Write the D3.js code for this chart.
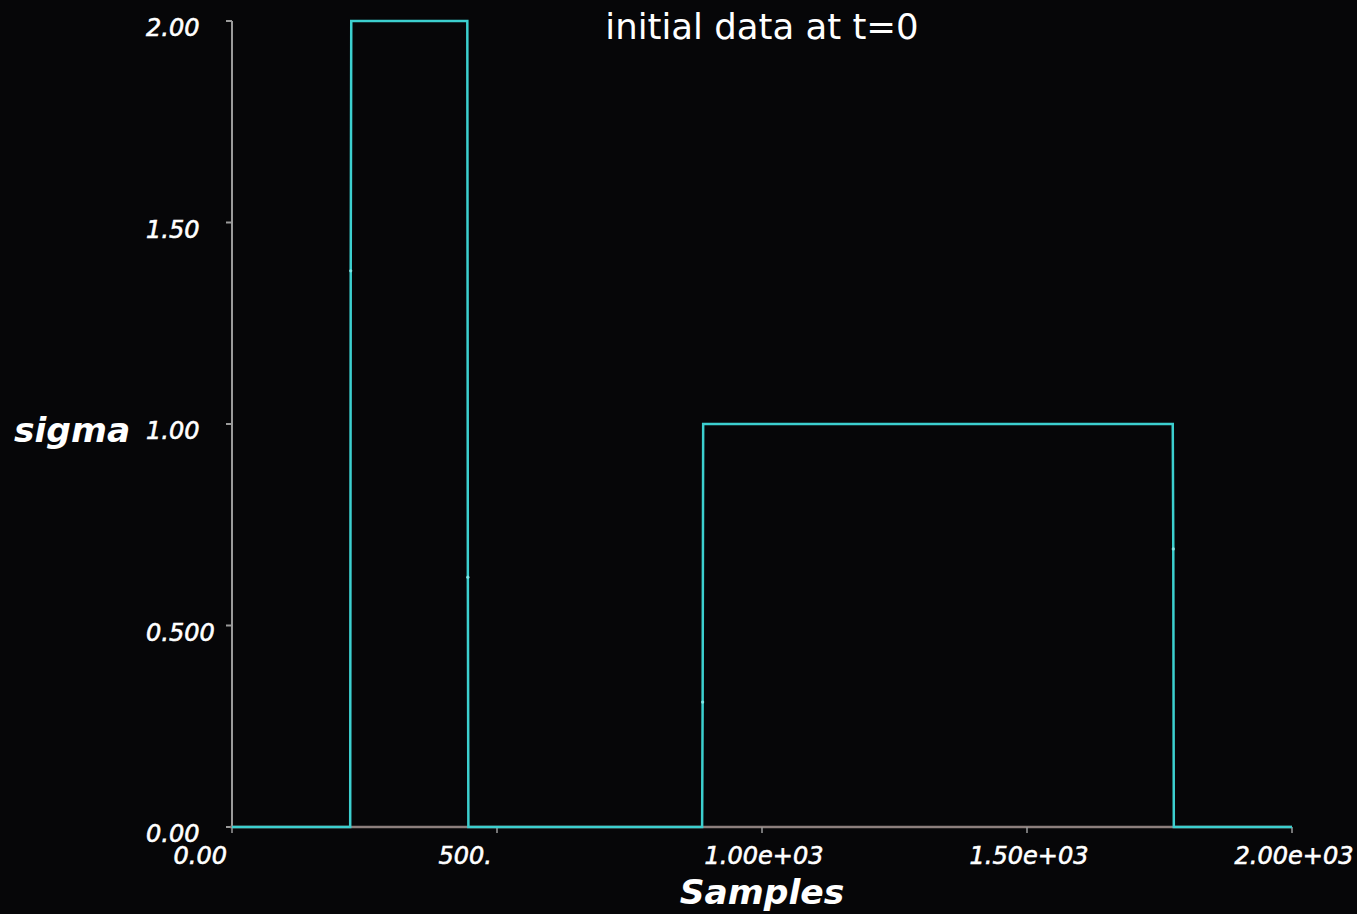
<!DOCTYPE html>
<html><head><meta charset="utf-8">
<script src="https://cdn.jsdelivr.net/npm/d3@7"></script>
<style>
html,body{margin:0;padding:0;background:#060608;}
svg{display:block;}
</style></head>
<body>
<svg id="c" width="1357" height="914"></svg>
<script>
// ---- data ----
const sampleX = [0, 223, 224, 225, 444, 445, 446, 887, 888, 889, 1775, 1776, 1777, 2000];
const sigmaVals = [0, 0, 1.38, 2, 2, 0.62, 0, 0, 0.31, 1, 1, 0.69, 0, 0];
const xTicks = [0, 500, 1000, 1500, 2000];
const xTickLabels = ["0.00", "500.", "1.00e+03", "1.50e+03", "2.00e+03"];
const yTicks = [0, 0.5, 1, 1.5, 2];
const yTickLabels = ["0.00", "0.500", "1.00", "1.50", "2.00"];
const title = "initial data at t=0";
const xTitle = "Samples";
const yTitle = "sigma";

const svg = d3.select("#c");
const x = d3.scaleLinear().domain([0, 2000]).range([232, 1292]);
const y = d3.scaleLinear().domain([0, 2]).range([827, 21]);
const data = sampleX.map((v, i) => ({x: v, y: sigmaVals[i]}));

const font = "'DejaVu Sans', sans-serif";

// y axis line
svg.append("line").attr("x1", x(0)).attr("x2", x(0)).attr("y1", y(2)).attr("y2", y(0))
  .attr("stroke", "#9a9a9a").attr("stroke-width", 2);
// y ticks
svg.selectAll(".yt").data(yTicks).enter().append("line")
  .attr("x1", x(0) - 6).attr("x2", x(0)).attr("y1", d => y(d)).attr("y2", d => y(d))
  .attr("stroke", "#9a9a9a").attr("stroke-width", 2);
svg.selectAll(".yl").data(yTicks).enter().append("text")
  .attr("x", 146).attr("y", d => y(d) + 15)
  .attr("fill", "#ffffff").attr("stroke", "#ffffff").attr("stroke-width", 0.6)
  .attr("font-family", font).attr("font-style", "italic")
  .attr("font-size", 24)
  .text((d, i) => yTickLabels[i]);

// x axis line
svg.append("line").attr("x1", x(0) - 2).attr("x2", x(2000)).attr("y1", y(0)).attr("y2", y(0))
  .attr("stroke", "#8c7f7d").attr("stroke-width", 2.5);
svg.selectAll(".xt").data(xTicks).enter().append("line")
  .attr("x1", d => x(d)).attr("x2", d => x(d)).attr("y1", y(0)).attr("y2", y(0) + 6)
  .attr("stroke", "#9a9a9a").attr("stroke-width", 1.5);
svg.selectAll(".xl").data(xTicks).enter().append("text")
  .attr("x", (d, i) => xTickLabels[i].length < 6 ? x(d) - 5 : x(d) + 2)
  .attr("text-anchor", (d, i) => xTickLabels[i].length < 6 ? "end" : "middle")
  .attr("y", y(0) + 37)
  .attr("fill", "#ffffff").attr("stroke", "#ffffff").attr("stroke-width", 0.6)
  .attr("font-family", font).attr("font-style", "italic")
  .attr("font-size", 24)
  .text((d, i) => xTickLabels[i]);

// data line
const line = d3.line().x(d => x(d.x)).y(d => y(d.y));
svg.append("path").datum(data).attr("d", line)
  .attr("fill", "none").attr("stroke", "#3ccfcf").attr("stroke-width", 2.5)
  .attr("stroke-linejoin", "miter");
svg.selectAll(".dot").data(data.filter(d => d.y > 0 && d.y !== 1 && d.y !== 2)).enter()
  .append("circle").attr("cx", d => x(d.x)).attr("cy", d => y(d.y)).attr("r", 1.6)
  .attr("fill", "#7fe6e6");

// titles
svg.append("text").attr("x", x(1000)).attr("y", 39).attr("text-anchor", "middle")
  .attr("fill", "#ffffff").attr("font-family", font).attr("font-size", 35.5)
  .text(title);
svg.append("text").attr("x", x(1000)).attr("y", 904).attr("text-anchor", "middle")
  .attr("fill", "#ffffff").attr("font-family", font).attr("font-style", "italic")
  .attr("font-weight", 700).attr("font-size", 34.5)
  .text(xTitle);
svg.append("text").attr("x", 14).attr("y", 442)
  .attr("fill", "#ffffff").attr("font-family", font).attr("font-style", "italic")
  .attr("font-weight", 700).attr("font-size", 34.5)
  .text(yTitle);
</script>
</body></html>
